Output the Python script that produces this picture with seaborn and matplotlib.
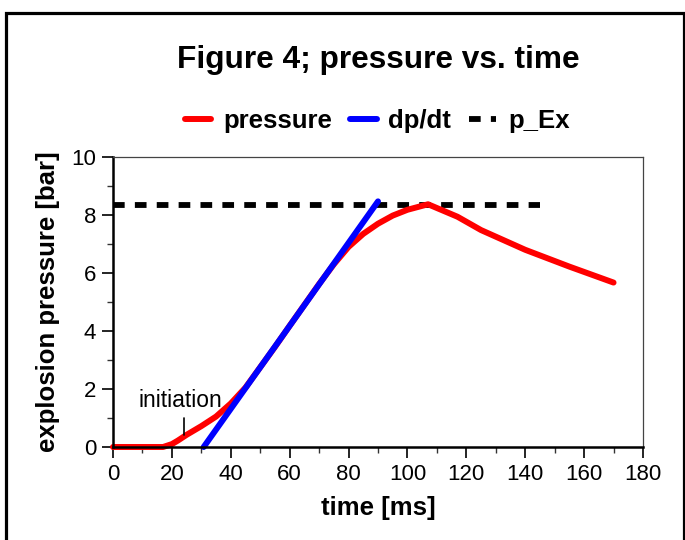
import numpy as np
import pandas as pd
import matplotlib
matplotlib.use("Agg")
import matplotlib.pyplot as plt
from matplotlib.patches import Rectangle
from matplotlib.ticker import MultipleLocator
import seaborn as sns

# pressure curve
time_ms = [0, 5, 10, 15, 17, 20, 22, 25, 30, 35, 40, 45, 50, 55, 60, 65, 70,
           75, 80, 85, 90, 95, 100, 107, 117, 125, 140, 155, 170]
pressure = [0, 0, 0, 0, 0.0, 0.1, 0.22, 0.42, 0.72, 1.05, 1.5, 2.05, 2.75,
            3.45, 4.18, 4.9, 5.62, 6.3, 6.9, 7.35, 7.7, 7.98, 8.18, 8.37,
            7.94, 7.48, 6.8, 6.22, 5.67]

# tangent (dp/dt) line
tan_t = [30.8, 90.0]
tan_p = [0.0, 8.47]

# maximum explosion pressure
pex_t = [0, 145]
pex_p = [8.33, 8.33]

init_t = 24.0

sns.set_theme(style="ticks")
plt.rcParams['font.family'] = ['Liberation Sans', 'DejaVu Sans']
plt.rcParams['text.color'] = 'black'
plt.rcParams['axes.labelcolor'] = 'black'
plt.rcParams['xtick.color'] = 'black'
plt.rcParams['ytick.color'] = 'black'

df = pd.DataFrame({'t': time_ms, 'p': pressure})
df_tan = pd.DataFrame({'t': tan_t, 'p': tan_p})
df_pex = pd.DataFrame({'t': pex_t, 'p': pex_p})

fig = plt.figure(figsize=(6.85, 5.4), dpi=100)
ax = fig.add_axes([113/685, 93/540, 530/685, 290/540])

sns.lineplot(data=df_pex, x='t', y='p', ax=ax, color='black', lw=4.2,
             linestyle=(0, (2.0, 1.75)), dash_capstyle='butt', label='p_Ex', clip_on=False)
sns.lineplot(data=df, x='t', y='p', ax=ax, color='#ff0000', lw=4.3,
             solid_capstyle='round', label='pressure', clip_on=False)
sns.lineplot(data=df_tan, x='t', y='p', ax=ax, color='#0000ff', lw=4.3,
             solid_capstyle='round', label='dp/dt', clip_on=False)

# initiation marker
ax.plot([init_t, init_t], [0.42, 1.0], color='black', lw=1.2)
ax.text(23, 1.62, 'initiation', fontsize=16.5, ha='center', va='center', color='black')

ax.set_xlim(0, 180)
ax.set_ylim(0, 10)
ax.xaxis.set_major_locator(MultipleLocator(20))
ax.xaxis.set_minor_locator(MultipleLocator(10))
ax.yaxis.set_major_locator(MultipleLocator(2))
ax.yaxis.set_minor_locator(MultipleLocator(1))
ax.tick_params(which='major', direction='out', length=8, width=1.2, labelsize=16,
               colors='black', pad=4)
ax.tick_params(which='minor', direction='out', length=4.5, width=1.0, colors='#333333')
for s in ['left', 'bottom']:
    ax.spines[s].set_linewidth(1.8)
    ax.spines[s].set_color('black')
for s in ['top', 'right']:
    ax.spines[s].set_linewidth(0.9)
    ax.spines[s].set_color('#444444')
ax.spines['top'].set_visible(True)
ax.spines['right'].set_visible(True)

ax.set_xlabel('time [ms]', fontsize=18.5, fontweight='bold', labelpad=8)
ax.set_ylabel('explosion pressure [bar]', fontsize=18.5, fontweight='bold', labelpad=8)

fig.suptitle('Figure 4; pressure vs. time', x=378/685, y=1 - 60/540, va='center',
             fontsize=22.8, fontweight='bold', color='black')

handles, labels = ax.get_legend_handles_labels()
order = [labels.index(l) for l in ['pressure', 'dp/dt', 'p_Ex']]
ax.legend([handles[i] for i in order], [labels[i] for i in order],
          loc='center', bbox_to_anchor=(377/685, 1 - 121/540),
          bbox_transform=fig.transFigure, ncol=3, frameon=False,
          prop={'size': 18.5, 'weight': 'bold'}, handlelength=1.05,
          handletextpad=0.45, columnspacing=0.7, borderaxespad=0)

# outer frame round the figure
fig.patches.append(Rectangle((5.5/685, -0.05), 678/685, 1.05 - 13.5/540,
                             transform=fig.transFigure, fill=False,
                             edgecolor='black', lw=2.3, zorder=10))

fig.savefig('out.png', dpi=100)
